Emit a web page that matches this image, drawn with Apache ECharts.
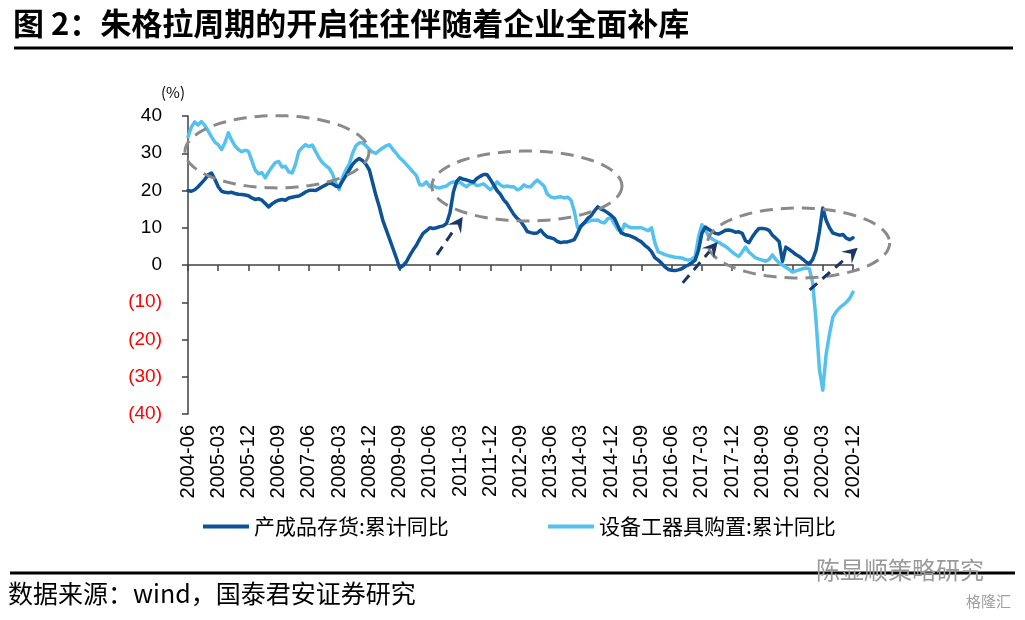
<!DOCTYPE html>
<html>
<head>
<meta charset="utf-8">
<script src="https://cdn.jsdelivr.net/npm/echarts@6/dist/echarts.min.js"></script>
<style>
html,body{margin:0;padding:0;background:#fff;}
#c{width:1025px;height:620px;}
</style>
</head>
<body>
<div id="c"></div>
<script>
// ---------- data ----------
const categories = [];
for (let y = 2004; y <= 2020; y++) {
  for (let m = 1; m <= 12; m++) {
    if (y === 2004 && m < 6) continue;
    categories.push(y + '-' + (m < 10 ? '0' + m : '' + m));
  }
}
const xTickLabels = ['2004-06','2005-03','2005-12','2006-09','2007-06','2008-03','2008-12','2009-09','2010-06','2011-03','2011-12','2012-09','2013-06','2014-03','2014-12','2015-09','2016-06','2017-03','2017-12','2018-09','2019-06','2020-03','2020-12'];
const yTicks = [-40,-30,-20,-10,0,10,20,30,40];
const yTickLabels = ['(40)','(30)','(20)','(10)','0','10','20','30','40'];

const seriesNames = ['产成品存货:累计同比','设备工器具购置:累计同比'];

const inventory = [
 20, 19.8, 20.2, 21, 22, 23, 24.2, 24.7, 23, 21,
 19.8, 19.5, 19.4, 19.5, 19.2, 19, 18.9, 18.8, 18.6, 18,
 17.6, 17.8, 17.4, 16.5, 15.6, 16.4, 17, 17.4, 17.6, 17.4,
 18, 18.2, 18.4, 18.5, 19, 19.6, 20, 20.1, 20, 20.5,
 21, 21.5, 22, 21.8, 21.2, 21, 22.5, 24, 25.5, 27,
 28, 28.6, 28, 27, 25.5, 22, 18.5, 15.5, 12, 9.5,
 7, 4.5, 2, -0.8, -0.2, 0.8, 2.5, 4, 5.3, 7,
 8.5, 9.2, 10, 9.8, 10, 10.3, 10.5, 11.2, 14, 19.5,
 22.5, 23.4, 23, 22.8, 22.5, 22.3, 23.2, 23.8, 24.3, 24.3,
 23, 21.5, 20, 19, 17.5, 16.5, 15, 13.6, 12.5, 11.8,
 10.5, 9, 8.7, 8.5, 8.6, 9.4, 8.3, 7.5, 7.3, 7,
 6.3, 6, 6.2, 6.2, 6.5, 6.8, 8.5, 10.5, 11.3, 12.5,
 13.2, 14.5, 15.6, 15, 14.6, 14, 13.3, 12.5, 10.5, 8.6,
 8.2, 8, 7.7, 7.3, 6.7, 6.2, 5.3, 4.6, 3.6, 2,
 1.3, 0.5, -0.5, -1.2, -1.4, -1.5, -1.3, -1, -0.4, 0,
 0.6, 1.3, 4, 8.5, 10.2, 9.6, 9, 8.5, 8.3, 8.8,
 9.3, 9.4, 9.2, 8.8, 8.9, 8.5, 6.5, 6, 7.5, 8.8,
 9.8, 9.8, 9.7, 9.3, 8, 7.2, 6.3, 1, 4.8, 4.2,
 3.5, 2.8, 2.3, 1.6, 0.8, 0.3, 1.5, 4, 9, 15.3,
 12, 10, 8.6, 8.3, 8, 8.2, 7.2, 6.8, 7.3
];
const equipment = [
 34.4, 37, 38.4, 37.6, 38.5, 37.5, 36, 34.4, 33, 32.3,
 31, 32.8, 35.5, 33.5, 32, 31, 30.4, 30.8, 30.5, 28,
 25.5, 24.5, 24.8, 23.4, 25, 26.3, 27.5, 27.8, 26.3, 26.5,
 25, 24.7, 27, 30.5, 31.5, 32.3, 31.8, 32.2, 30.5, 28.8,
 27.5, 26.7, 26, 24.5, 22, 20.3, 23.5, 25.5, 27, 30,
 32, 32.8, 32.8, 32, 31, 30.3, 30, 30.8, 31.4, 32,
 32.3, 31, 30, 28.8, 28, 27, 26, 25, 24, 21.5,
 21.5, 22.3, 21, 21.3, 20.8, 20.7, 21, 21.2, 22, 22.3,
 22, 22.2, 21.5, 21, 21.8, 22, 21.3, 21.5, 21.8, 21,
 20.2, 21, 22.3, 21.5, 21, 21.2, 21, 21, 20.2, 20.5,
 21.5, 21, 21, 22, 22.8, 22, 21.2, 19, 18.3, 18,
 18.2, 18.3, 18, 18.2, 17.5, 14.5, 10, 10.2, 11.3, 11.6,
 12, 12, 12.1, 11.5, 11.3, 12.5, 12.6, 11, 9.5, 8.8,
 11, 10.3, 10, 10, 10, 10, 9.6, 9.2, 10, 6,
 3.5, 3.2, 2.8, 2.5, 2.3, 2.1, 2, 1.9, 1.5, 1.3,
 1.6, 2.2, 7.5, 10.8, 9.5, 7.8, 7, 6.5, 6.1, 5.5,
 5, 4.3, 3.5, 2.8, 2.3, 3.5, 4.8, 3.5, 2.7, 1.9,
 1.6, 1.3, 1, 1.5, 2.7, 1.5, 0.5, 0, -0.6, -1.2,
 -1.9, -1.6, -1.3, -1, -0.8, -1, -4.8, -15, -28, -33.6,
 -24, -18.5, -14, -12.5, -11.5, -10.8, -10, -9, -7.3
];

// annotations in data coordinates (category index, value)
const ellipses = [
  {cx: 26.5, cy: 30.4, rx: 27.4, ry: 9.7},
  {cx: 100.9, cy: 21.2, rx: 28.3, ry: 9.4},
  {cx: 181.8, cy: 5.9, rx: 27.1, ry: 9.4}
];
const arrows = [
  [74.1, 2.7, 81.8, 12.9],
  [147.3, -4.8, 157.7, 6.2],
  [185.1, -6.7, 199.4, 4.6]
];

// ---------- chart ----------
const NUM_FONT = '"Liberation Sans", Arial, sans-serif';
const CJK_FONT = '"Noto Sans CJK SC", sans-serif';
const DARK = '#0d5197';
const LIGHT = '#55c1ef';

const chart = echarts.init(document.getElementById('c'), null, {renderer: 'canvas'});
const isTick = (idx, val) => xTickLabels.indexOf(val) >= 0;

const option = {
  animation: false,
  backgroundColor: '#ffffff',
  title: {
    text: '图 2：朱格拉周期的开启往往伴随着企业全面补库',
    left: 8, top: 3,
    textStyle: {fontFamily: CJK_FONT, fontWeight: 'bold', fontSize: 31, color: '#000'}
  },
  legend: [
    {
      data: [seriesNames[0]], left: 198, top: 511,
      icon: 'rect', itemWidth: 46, itemHeight: 4, itemGap: 6,
      textStyle: {fontFamily: CJK_FONT, fontSize: 21, color: '#000'}
    },
    {
      data: [seriesNames[1]], left: 543, top: 511,
      icon: 'rect', itemWidth: 46, itemHeight: 4, itemGap: 6,
      textStyle: {fontFamily: CJK_FONT, fontSize: 21, color: '#000'}
    }
  ],
  grid: {left: 188, right: 172, top: 116, bottom: 206, containLabel: false},
  xAxis: [
    {
      type: 'category', data: categories, boundaryGap: false,
      axisLine: {onZero: true, lineStyle: {color: '#404040', width: 1.5}},
      axisTick: {show: true, interval: isTick, length: 6, lineStyle: {color: '#404040', width: 1.5}},
      axisLabel: {show: false},
      splitLine: {show: false}
    },
    {
      type: 'category', data: categories, boundaryGap: false, position: 'bottom',
      axisLine: {show: false, onZero: false},
      axisTick: {show: false},
      axisLabel: {show: true, interval: isTick, rotate: 90, margin: 11,
        fontFamily: NUM_FONT, fontSize: 20, color: '#000'},
      splitLine: {show: false}
    }
  ],
  yAxis: {
    type: 'value', min: -40, max: 40, interval: 10,
    axisLine: {show: true, lineStyle: {color: '#404040', width: 1.5}},
    axisTick: {show: true, length: 6, lineStyle: {color: '#404040', width: 1.5}},
    splitLine: {show: false},
    axisLabel: {
      margin: 26, fontFamily: NUM_FONT, fontSize: 19,
      formatter: v => { const i = yTicks.indexOf(v); return i >= 0 ? yTickLabels[i] : ''; },
      color: v => (v < 0 ? '#ff0000' : '#000000')
    }
  },
  series: [
    {
      name: seriesNames[0], type: 'line', data: inventory, xAxisIndex: 0,
      symbol: 'none', z: 4, color: DARK,
      lineStyle: {color: DARK, width: 3.5, join: 'round', cap: 'round'}
    },
    {
      name: seriesNames[1], type: 'line', data: equipment, xAxisIndex: 0,
      symbol: 'none', z: 3, color: LIGHT,
      lineStyle: {color: LIGHT, width: 3.5, join: 'round', cap: 'round'}
    }
  ]
};
chart.setOption(option);

// ---------- annotations via the chart's own scales ----------
const p0 = chart.convertToPixel({xAxisIndex: 0, yAxisIndex: 0}, [categories[0], 0]);
const p1 = chart.convertToPixel({xAxisIndex: 0, yAxisIndex: 0}, [categories[categories.length - 1], 40]);
const sx = (p1[0] - p0[0]) / (categories.length - 1);
const sy = (p1[1] - p0[1]) / 40;
const toPx = (m, v) => [p0[0] + m * sx, p0[1] + v * sy];

const graphics = [];
ellipses.forEach(e => {
  const c = toPx(e.cx, e.cy);
  const rx = Math.abs(e.rx * sx), ry = Math.abs(e.ry * sy);
  const pts = [];
  for (let k = 0; k < 120; k++) {
    const a = k / 120 * Math.PI * 2;
    pts.push([c[0] + rx * Math.cos(a), c[1] + ry * Math.sin(a)]);
  }
  graphics.push({
    type: 'polygon', shape: {points: pts}, z: 10, silent: true,
    style: {fill: 'none', stroke: '#8a8a8a', lineWidth: 3, lineDash: [13, 8]}
  });
});
arrows.forEach(a => {
  const s = toPx(a[0], a[1]), t = toPx(a[2], a[3]);
  const dx = t[0] - s[0], dy = t[1] - s[1];
  const len = Math.sqrt(dx * dx + dy * dy);
  const ux = dx / len, uy = dy / len;
  const hl = 15, hw = 8;
  const b = [t[0] - ux * hl, t[1] - uy * hl];
  graphics.push({
    type: 'line', z: 11, silent: true,
    shape: {x1: s[0], y1: s[1], x2: b[0] + ux * 2, y2: b[1] + uy * 2},
    style: {stroke: '#1b3566', lineWidth: 3, lineDash: [10, 7]}
  });
  graphics.push({
    type: 'polygon', z: 11, silent: true,
    shape: {points: [t, [b[0] - uy * hw, b[1] + ux * hw], [t[0] - ux * hl * 0.6, t[1] - uy * hl * 0.6], [b[0] + uy * hw, b[1] - ux * hw]]},
    style: {fill: '#1b3566'}
  });
});
// page decorations
graphics.push(
  {type: 'line', shape: {x1: 14, y1: 48, x2: 1013, y2: 48}, style: {stroke: '#000', lineWidth: 3}, z: 5},
  {type: 'line', shape: {x1: 10, y1: 573, x2: 1015, y2: 573}, style: {stroke: '#000', lineWidth: 3}, z: 5},
  {type: 'text', left: 161, top: 85, style: {text: '(%)', fontFamily: CJK_FONT, fontSize: 15, fill: '#000'}},
  {type: 'text', left: 8, top: 581, style: {text: '数据来源：wind，国泰君安证券研究', fontFamily: CJK_FONT, fontSize: 25, fill: '#000'}},
  {type: 'text', left: 816, top: 558, style: {text: '陈显顺策略研究', fontFamily: CJK_FONT, fontSize: 24, fill: '#9a9a9a'}, z: 20},
  {type: 'text', left: 966, top: 594, style: {text: '格隆汇', fontFamily: CJK_FONT, fontSize: 15, fill: '#a0a0a0'}, z: 20}
);
chart.setOption({graphic: graphics});
</script>
</body>
</html>
